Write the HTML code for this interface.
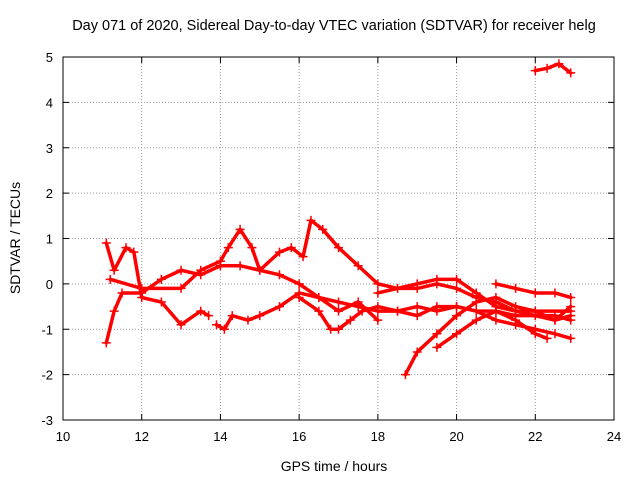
<!DOCTYPE html>
<html><head><meta charset="utf-8"><style>
body{margin:0;background:#fff}
svg{display:block;font-family:"Liberation Sans",sans-serif}
</style></head><body>
<svg id="c" width="640" height="480">
<text x="334" y="30" font-size="14.5" text-anchor="middle">Day 071 of 2020, Sidereal Day-to-day VTEC variation (SDTVAR) for receiver helg</text>
<text x="334" y="471" font-size="14" text-anchor="middle">GPS time / hours</text>
<text transform="translate(20,238) rotate(-90)" font-size="14" text-anchor="middle">SDTVAR / TECUs</text>
<g id="grid"></g>
<g id="series"></g>
<rect x="63" y="57" width="551" height="363" fill="none" stroke="#000"/>
</svg>
<script>
const xTicks=[10,12,14,16,18,20,22,24];
const yTicks=[-3,-2,-1,0,1,2,3,4,5];
const s1=[[11.1,-1.3],[11.3,-0.6],[11.5,-0.2],[12,-0.2],[12.5,0.1],[13,0.3],[13.5,0.2],[14,0.4],[14.5,0.4],[15,0.3],[15.5,0.2],[16,0.0],[16.5,-0.3],[17,-0.4],[17.5,-0.5],[18,-0.6],[18.5,-0.6],[19,-0.5],[19.5,-0.6],[20,-0.5],[20.5,-0.6],[21,-0.6],[21.5,-0.7],[22,-0.7],[22.5,-0.8],[22.9,-0.7]];
const s2=[[11.1,0.9],[11.3,0.3],[11.6,0.8],[11.8,0.7],[12,-0.3],[12.5,-0.4],[13,-0.9],[13.5,-0.6],[13.7,-0.7]];
const s3=[[13.9,-0.9],[14.1,-1.0],[14.3,-0.7],[14.7,-0.8],[15,-0.7],[15.5,-0.5],[16,-0.2],[16.5,-0.3],[17,-0.6],[17.5,-0.4],[18,-0.8]];
const s4=[[11.2,0.1],[12,-0.1],[13,-0.1],[13.5,0.3],[14,0.5],[14.2,0.8],[14.5,1.2],[14.8,0.8],[15,0.3],[15.5,0.7],[15.8,0.8],[16.1,0.6],[16.3,1.4],[16.6,1.2],[17,0.8],[17.5,0.4],[18,0.0],[18.5,-0.1],[19,-0.1],[19.5,0.0],[20,-0.1],[20.5,-0.3],[21,-0.4],[21.5,-0.6],[22,-0.7],[22.5,-0.7],[22.9,-0.8]];
const s5=[[18.7,-2.0],[19,-1.5],[19.5,-1.1],[20,-0.7],[20.5,-0.4],[21,-0.3],[21.5,-0.5],[22,-0.6],[22.5,-0.8],[22.9,-0.5]];
const s6=[[19.5,-1.4],[20,-1.1],[20.5,-0.8],[21,-0.6],[21.5,-0.8],[22,-1.1],[22.3,-1.2]];
const s7=[[21,0.0],[21.5,-0.1],[22,-0.2],[22.5,-0.2],[22.9,-0.3]];
const s8=[[22,4.7],[22.3,4.75],[22.6,4.85],[22.9,4.65]];
const s9=[[16,-0.3],[16.5,-0.6],[16.8,-1.0],[17,-1.0],[17.3,-0.8],[17.6,-0.6],[18,-0.5],[18.5,-0.6],[19,-0.7],[19.5,-0.5],[20,-0.5],[20.5,-0.6],[21,-0.8],[21.5,-0.9],[22,-1.0],[22.5,-1.1],[22.9,-1.2]];
const s10=[[18,-0.2],[19,0.0],[19.5,0.1],[20,0.1],[20.5,-0.2],[21,-0.5],[21.5,-0.6],[22,-0.6],[22.9,-0.6]];
const allSeries=[s1,s2,s3,s4,s5,s6,s7,s8,s9,s10];
const X=v=>63+(v-10)*551/14, Y=v=>420-(v+3)*363/8;
const NS="http://www.w3.org/2000/svg";
const g=document.getElementById('grid'), sg=document.getElementById('series');
function mk(t,a,p){const e=document.createElementNS(NS,t);for(const k in a)e.setAttribute(k,a[k]);p.appendChild(e);return e;}
xTicks.forEach(v=>{const x=X(v);
 if(v>10&&v<24){const l=mk('line',{x1:x,x2:x,y1:57,y2:420,stroke:'#999','stroke-dasharray':'1,2'},g);}
 mk('line',{x1:x,x2:x,y1:420,y2:414,stroke:'#000'},g);mk('line',{x1:x,x2:x,y1:57,y2:63,stroke:'#000'},g);
 const t=mk('text',{x:x,y:441,'font-size':13,'text-anchor':'middle'},g);t.textContent=v;
 });
yTicks.forEach(v=>{const y=Y(v);
 if(v>-3&&v<5){const l=mk('line',{x1:63,x2:614,y1:y,y2:y,stroke:'#999','stroke-dasharray':'1,2'},g);}
 mk('line',{x1:63,x2:69,y1:y,y2:y,stroke:'#000'},g);mk('line',{x1:614,x2:608,y1:y,y2:y,stroke:'#000'},g);
 const t=mk('text',{x:53,y:y+5,'font-size':13,'text-anchor':'end'},g);t.textContent=v;
 });
allSeries.forEach((s,i)=>{
 const pl=mk('polyline',{points:s.map(p=>X(p[0])+','+Y(p[1])).join(' '),fill:'none',stroke:'#f00','stroke-width':3.5,'stroke-linejoin':'round','stroke-linecap':'round'},sg);
 
 
 s.forEach(p=>{const x=X(p[0]),y=Y(p[1]);
  const m=mk('path',{d:`M${x-4.5},${y}h9M${x},${y-4.5}v9`,stroke:'#f00','stroke-width':1.5},sg);
  
  });
});
</script>
</body></html>
